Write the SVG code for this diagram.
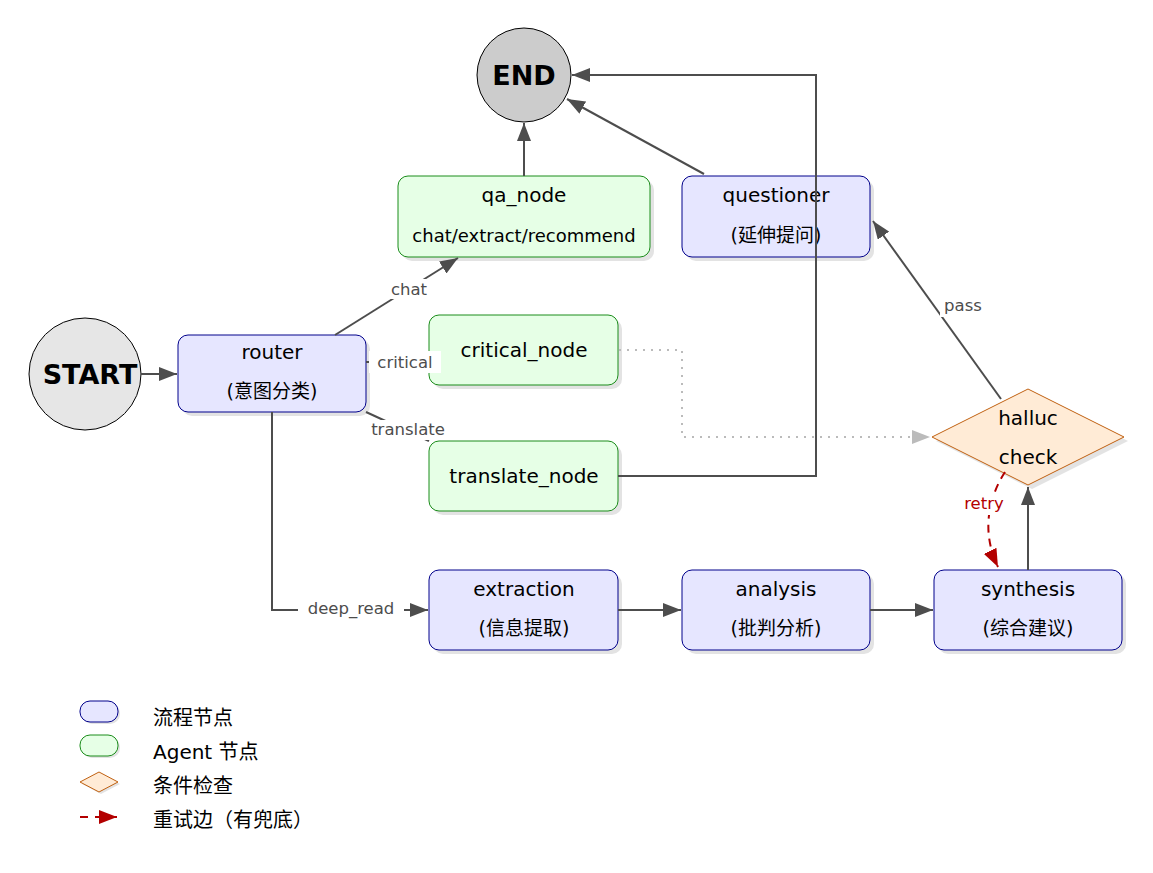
<svg xmlns="http://www.w3.org/2000/svg" width="1153" height="873" viewBox="0 0 1153 873">
<style>
text{font-family:"DejaVu Sans","Noto Sans CJK SC",sans-serif;fill:#000}
.t{font-size:20px;text-anchor:middle}
.s{font-size:19px;text-anchor:middle}
.s2{font-size:18px;text-anchor:middle}
.lbl{font-size:16.5px;fill:#4d4d4d;text-anchor:middle}
.proc{fill:#e6e6ff;stroke:#00008b;stroke-width:1}
.agent{fill:#e6ffe6;stroke:#1a8c1a;stroke-width:1}
.cond{fill:#ffebd6;stroke:#c06010;stroke-width:1}
.sh{fill:#e3e3e3}
.e{fill:none;stroke:#4d4d4d;stroke-width:2}
.lg{font-size:20px}
.big{font-size:27px;font-weight:bold;text-anchor:middle}
</style>
<defs>
<marker id="a" viewBox="0 0 18 14" refX="18" refY="7" markerWidth="18" markerHeight="14" markerUnits="userSpaceOnUse" orient="auto">
<path d="M0,0 L18,7 L0,14 z" fill="#4d4d4d"/>
</marker>
<marker id="ag" viewBox="0 0 18 14" refX="18" refY="7" markerWidth="18" markerHeight="14" markerUnits="userSpaceOnUse" orient="auto">
<path d="M0,0 L18,7 L0,14 z" fill="#bbbbbb"/>
</marker>
<marker id="ar" viewBox="0 0 18 14" refX="18" refY="7" markerWidth="18" markerHeight="14" markerUnits="userSpaceOnUse" orient="auto">
<path d="M0,0 L18,7 L0,14 z" fill="#b30000"/>
</marker>
</defs>

<g id="start">
<circle cx="85" cy="374" r="56" fill="#e6e6e6" stroke="#000" stroke-width="1"/>
<text class="big" x="90" y="384">START</text>
</g>
<g id="end">
<circle cx="524" cy="75" r="47" fill="#cccccc" stroke="#000" stroke-width="1"/>
<text class="big" x="524" y="85">END</text>
</g>

<g id="router">
<rect class="sh" x="182" y="339" width="188" height="77" rx="10"/>
<rect class="proc" x="178" y="335" width="188" height="77" rx="10"/>
<text class="t" x="272" y="359">router</text>
<text class="s" x="272" y="398">(意图分类)</text>
</g>
<g id="qa_node">
<rect class="sh" x="402" y="180" width="252" height="81" rx="10"/>
<rect class="agent" x="398" y="176" width="252" height="81" rx="10"/>
<text class="t" x="524" y="202">qa_node</text>
<text class="s2" x="524" y="242">chat/extract/recommend</text>
</g>
<g id="questioner">
<rect class="sh" x="686" y="180" width="188" height="81" rx="10"/>
<rect class="proc" x="682" y="176" width="188" height="81" rx="10"/>
<text class="t" x="776" y="202">questioner</text>
<text class="s" x="776" y="242">(延伸提问)</text>
</g>
<g id="critical_node">
<rect class="sh" x="433" y="319" width="189" height="70" rx="10"/>
<rect class="agent" x="429" y="315" width="189" height="70" rx="10"/>
<text class="t" x="524" y="357">critical_node</text>
</g>
<g id="translate_node">
<rect class="sh" x="433" y="445" width="189" height="70" rx="10"/>
<rect class="agent" x="429" y="441" width="189" height="70" rx="10"/>
<text class="t" x="524" y="483">translate_node</text>
</g>
<g id="extraction">
<rect class="sh" x="433" y="574" width="189" height="80" rx="10"/>
<rect class="proc" x="429" y="570" width="189" height="80" rx="10"/>
<text class="t" x="524" y="596">extraction</text>
<text class="s" x="524" y="635">(信息提取)</text>
</g>
<g id="analysis">
<rect class="sh" x="686" y="574" width="188" height="80" rx="10"/>
<rect class="proc" x="682" y="570" width="188" height="80" rx="10"/>
<text class="t" x="776" y="596">analysis</text>
<text class="s" x="776" y="635">(批判分析)</text>
</g>
<g id="synthesis">
<rect class="sh" x="938" y="574" width="188" height="80" rx="10"/>
<rect class="proc" x="934" y="570" width="188" height="80" rx="10"/>
<text class="t" x="1028" y="596">synthesis</text>
<text class="s" x="1028" y="635">(综合建议)</text>
</g>
<g id="halluc_check">
<polygon class="sh" points="1032,393 1128,441 1032,489 936,441"/>
<polygon class="cond" points="1028,389 1124,437 1028,485 932,437"/>
<text class="t" x="1028" y="425">halluc</text>
<text class="t" x="1028" y="464">check</text>
</g>

<g id="edges">
<line class="e" x1="141" y1="374" x2="177" y2="374" marker-end="url(#a)"/>
<line class="e" x1="335" y1="335" x2="458" y2="258" marker-end="url(#a)"/>
<line class="e" x1="366" y1="362" x2="429" y2="362"/>
<line class="e" x1="366" y1="412" x2="429" y2="441"/>
<polyline class="e" points="272,412 272,610 428,610" marker-end="url(#a)"/>
<line class="e" x1="524" y1="176" x2="524" y2="123" marker-end="url(#a)"/>
<line class="e" x1="704" y1="174" x2="567" y2="99" marker-end="url(#a)"/>
<polyline class="e" points="618,476 816,476 816,75 572,75" marker-end="url(#a)"/>
<polyline points="619,350 682,350 682,437 930,437" fill="none" stroke="#bbbbbb" stroke-width="2" stroke-dasharray="2,6" marker-end="url(#ag)"/>
<line class="e" x1="1001" y1="399" x2="873" y2="221" marker-end="url(#a)"/>
<line class="e" x1="1028" y1="570" x2="1028" y2="487" marker-end="url(#a)"/>
<path d="M1005,472 C990,495 980,530 998,567" fill="none" stroke="#b30000" stroke-width="2" stroke-dasharray="8,6" marker-end="url(#ar)"/>
<line class="e" x1="618" y1="610" x2="681" y2="610" marker-end="url(#a)"/>
<line class="e" x1="870" y1="610" x2="933" y2="610" marker-end="url(#a)"/>
<rect x="386" y="279" width="46" height="20" fill="#fff"/>
<text class="lbl" x="409" y="295">chat</text>
<rect x="369" y="351" width="72" height="22" fill="#fff"/>
<text class="lbl" x="405" y="368">critical</text>
<rect x="366" y="420" width="84" height="20" fill="#fff"/>
<text class="lbl" x="408" y="435">translate</text>
<rect x="298" y="598" width="106" height="22" fill="#fff"/>
<text class="lbl" x="351" y="614">deep_read</text>
<rect x="940" y="295" width="46" height="22" fill="#fff"/>
<text class="lbl" x="963" y="311">pass</text>
<rect x="960" y="493" width="48" height="22" fill="#fff"/>
<text class="lbl" x="984" y="509" style="fill:#b30000">retry</text>
</g>

<g id="legend">
<rect class="sh" x="82" y="703" width="38" height="21" rx="10"/>
<rect class="proc" x="80" y="701" width="38" height="21" rx="10"/>
<text class="lg" x="153" y="725">流程节点</text>
<rect class="sh" x="82" y="737" width="38" height="21" rx="10"/>
<rect class="agent" x="80" y="735" width="38" height="21" rx="10"/>
<text class="lg" x="153" y="759">Agent 节点</text>
<polygon class="sh" points="101,774 120,784 101,794 82,784"/>
<polygon class="cond" points="99,772 118,782 99,792 80,782"/>
<text class="lg" x="153" y="793">条件检查</text>
<line x1="80" y1="817" x2="117" y2="817" stroke="#b30000" stroke-width="2" stroke-dasharray="8,7" marker-end="url(#ar)"/>
<text class="lg" x="153" y="827">重试边（有兜底）</text>
</g>
</svg>
